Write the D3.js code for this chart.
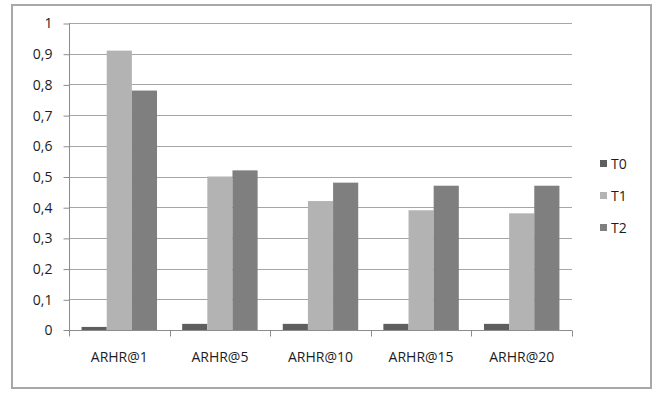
<!DOCTYPE html>
<html>
<head>
<meta charset="utf-8">
<script src="https://cdn.jsdelivr.net/npm/d3@7"></script>
<style>
  html, body { margin: 0; padding: 0; background: #fff; }
  svg text { font-family: "Open Sans", "DejaVu Sans", sans-serif; }
</style>
</head>
<body>
<svg id="chart" width="656" height="393"></svg>
<script>
const categories = ["ARHR@1", "ARHR@5", "ARHR@10", "ARHR@15", "ARHR@20"];
const seriesNames = ["T0", "T1", "T2"];
const valuesT0 = [0.01, 0.02, 0.02, 0.02, 0.02];
const valuesT1 = [0.91, 0.50, 0.42, 0.39, 0.38];
const valuesT2 = [0.78, 0.52, 0.48, 0.47, 0.47];
const yTicks = [0, 0.1, 0.2, 0.3, 0.4, 0.5, 0.6, 0.7, 0.8, 0.9, 1];
const colors = ["#5e5e5e", "#b3b3b3", "#7f7f7f"];

const series = [valuesT0, valuesT1, valuesT2];
const svg = d3.select("#chart");
const textColor = "#1c1c24";

// outer frame
svg.append("rect")
  .attr("x", 12).attr("y", 5).attr("width", 639).attr("height", 383)
  .attr("fill", "#fff").attr("stroke", "#a8a8a8").attr("stroke-width", 2);

const plotLeft = 69, plotRight = 572, plotTop = 23, plotBottom = 330;

const x = d3.scaleBand().domain(categories).range([plotLeft, plotRight]).paddingInner(0).paddingOuter(0);
const inner = d3.scaleBand().domain(seriesNames).range([0, x.bandwidth()]).paddingOuter(0.5).paddingInner(0);
const y = d3.scaleLinear().domain([0, 1]).range([plotBottom, plotTop]);

// gridlines
svg.append("g")
  .selectAll("line")
  .data(yTicks.filter(d => d > 0))
  .join("line")
  .attr("x1", plotLeft).attr("x2", plotRight)
  .attr("y1", d => Math.round(y(d)) + 0.5).attr("y2", d => Math.round(y(d)) + 0.5)
  .attr("stroke", "#a6a6a6").attr("stroke-width", 1);

// bars
const groups = svg.append("g")
  .selectAll("g")
  .data(categories)
  .join("g")
  .attr("transform", d => `translate(${x(d)},0)`);

groups.selectAll("rect")
  .data((c, i) => seriesNames.map((s, k) => ({ s, v: series[k][i], k })))
  .join("rect")
  .attr("x", d => inner(d.s))
  .attr("width", inner.bandwidth())
  .attr("y", d => y(d.v))
  .attr("height", d => y(0) - y(d.v))
  .attr("fill", d => colors[d.k]);

// y axis
const yAxis = d3.axisLeft(y)
  .tickValues(yTicks)
  .tickSize(6)
  .tickPadding(11)
  .tickFormat(d => d3.format(".1~f")(d).replace(".", ","));
const gy = svg.append("g").attr("transform", `translate(${plotLeft + 0.5},0.5)`).call(yAxis);
gy.select(".domain").attr("stroke", "#8c8c8c").attr("d", `M-6,${plotBottom}H0V${plotTop}`);
gy.selectAll(".tick line").attr("stroke", "#8c8c8c");
gy.selectAll(".tick text").attr("fill", textColor).attr("font-size", 14);
gy.selectAll(".tick").filter(d => d === 0).select("line").remove();

// x axis
const xAxis = d3.axisBottom(x).tickSize(0).tickPadding(22);
const gx = svg.append("g").attr("transform", `translate(0,${plotBottom + 0.5})`).call(xAxis);
gx.select(".domain").attr("stroke", "#8c8c8c").attr("d", `M${plotLeft},0H${plotRight}`);
gx.selectAll(".tick text").attr("fill", textColor).attr("font-size", 14);
// category boundary ticks
gx.append("g")
  .selectAll("line")
  .data(categories.map(c => x(c)).concat([plotRight]))
  .join("line")
  .attr("x1", d => Math.round(d) + 0.5).attr("x2", d => Math.round(d) + 0.5)
  .attr("y1", 0).attr("y2", 6)
  .attr("stroke", "#8c8c8c");

// legend
const legend = svg.append("g")
  .selectAll("g")
  .data(seriesNames)
  .join("g")
  .attr("transform", (d, i) => `translate(600,${160 + i * 32})`);
legend.append("rect")
  .attr("width", 7).attr("height", 7)
  .attr("fill", (d, i) => colors[i]);
legend.append("text")
  .attr("x", 11).attr("y", 4)
  .attr("dy", "0.35em")
  .attr("font-size", 14)
  .attr("fill", textColor)
  .text(d => d);
</script>
</body>
</html>
